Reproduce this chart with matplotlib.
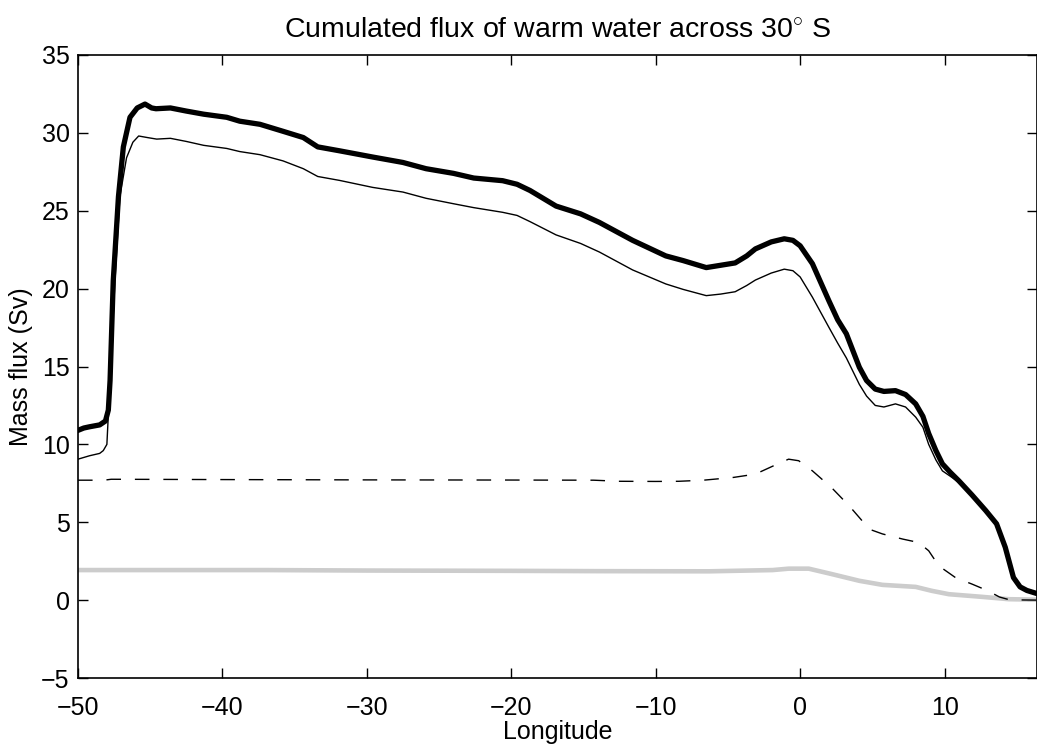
import matplotlib
matplotlib.use("Agg")
import matplotlib.pyplot as plt

plt.rcParams['font.family'] = ['Liberation Sans', 'DejaVu Sans']
plt.rcParams['mathtext.fontset'] = 'custom'
plt.rcParams['mathtext.rm'] = 'Liberation Sans'

# total warm water flux (thick black)
lon_total = [-50, -49.6, -49.2, -48.5, -48.1, -47.9, -47.78, -47.56, -47.2, -46.86,
             -46.4, -45.9, -45.36, -44.9, -44.6, -43.6, -42.5, -41.3, -39.7, -38.8,
             -37.4, -35.8, -34.4, -33.4, -31.9, -29.6, -27.5, -25.9, -24.0, -22.6,
             -20.6, -19.6, -18.7, -16.9, -15.2, -13.9, -13.2, -11.6, -9.3, -8.1,
             -6.5, -5.5, -4.5, -3.7, -3.1, -2.0, -1.1, -0.5, 0.0, 0.85,
             2.0, 2.6, 3.2, 4.1, 4.6, 5.2, 5.8, 6.6, 7.3, 8.0,
             8.5, 8.9, 9.4, 9.85, 10.4, 11.0, 11.9, 12.85, 13.6, 14.2,
             14.77, 15.23, 15.7, 16.4]
flux_total = [10.9, 11.05, 11.13, 11.25, 11.5, 12.2, 14.1, 20.5, 25.9, 29.1,
              31.0, 31.6, 31.85, 31.6, 31.55, 31.6, 31.4, 31.2, 31.0, 30.75,
              30.55, 30.1, 29.7, 29.1, 28.85, 28.45, 28.1, 27.7, 27.4, 27.1,
              26.93, 26.7, 26.3, 25.3, 24.8, 24.25, 23.9, 23.1, 22.1, 21.8,
              21.35, 21.5, 21.65, 22.1, 22.55, 23.0, 23.2, 23.1, 22.75, 21.6,
              19.2, 18.0, 17.1, 14.95, 14.1, 13.55, 13.4, 13.45, 13.2, 12.6,
              11.8, 10.7, 9.6, 8.75, 8.2, 7.65, 6.75, 5.75, 4.9, 3.4,
              1.45, 0.85, 0.62, 0.42]

# thin black
lon_thin = [-50, -49.2, -48.5, -48.25, -48.0, -47.9, -47.67, -47.44, -47.1, -46.64,
            -46.2, -45.8, -45.2, -44.55, -43.6, -42.5, -41.3, -39.7, -38.8, -37.4,
            -35.8, -34.4, -33.4, -31.9, -29.6, -27.5, -25.9, -24.0, -22.6, -20.6,
            -19.6, -18.7, -16.9, -15.2, -13.9, -13.2, -11.6, -9.3, -8.1, -6.5,
            -5.5, -4.5, -3.7, -3.1, -2.0, -1.1, -0.5, 0.0, 0.85, 2.0,
            2.6, 3.2, 4.1, 4.6, 5.2, 5.8, 6.6, 7.3, 8.0, 8.5,
            8.9, 9.4, 9.85, 10.4, 11.0, 11.9, 12.85, 13.6, 14.2, 14.77,
            15.23, 15.7, 16.4]
flux_thin = [9.05, 9.27, 9.42, 9.6, 10.0, 11.9, 16.2, 20.5, 25.9, 28.4,
             29.4, 29.8, 29.7, 29.6, 29.65, 29.45, 29.2, 29.0, 28.8, 28.6,
             28.2, 27.7, 27.2, 26.95, 26.5, 26.2, 25.8, 25.45, 25.2, 24.9,
             24.7, 24.3, 23.45, 22.9, 22.35, 22.0, 21.2, 20.3, 19.95, 19.55,
             19.65, 19.8, 20.2, 20.55, 21.0, 21.25, 21.15, 20.75, 19.45, 17.5,
             16.5, 15.55, 13.85, 13.1, 12.5, 12.4, 12.6, 12.4, 11.75, 11.1,
             10.0, 9.0, 8.3, 7.95, 7.55, 6.7, 5.7, 4.85, 3.35, 1.42,
             0.83, 0.6, 0.4]

# dashed
lon_dash = [-50, -48.2, -47.7, -40, -30.5, -20, -14.3, -12.5, -10, -8.4,
            -6.7, -4.6, -3.1, -1.9, -0.8, -0.1, 0.85, 2.2, 3.4, 4.1,
            4.8, 5.7, 7.1, 8.2, 8.9, 9.6, 10.75, 11.9, 13.0, 13.8,
            14.5, 16.4]
flux_dash = [7.7, 7.7, 7.76, 7.74, 7.72, 7.71, 7.7, 7.63, 7.62, 7.63,
             7.7, 7.88, 8.09, 8.6, 9.05, 8.95, 8.3, 7.2, 6.05, 5.3,
             4.55, 4.25, 3.92, 3.7, 3.17, 2.2, 1.45, 1.03, 0.6, 0.2,
             0.02, 0.0]

# grey
lon_grey = [-50, -37, -30, -20, -13.9, -6.3, -1.9, -0.8, 0.6, 2.2,
            4.1, 5.7, 8.0, 9.1, 10.3, 12.6, 14.45, 16.4]
flux_grey = [1.93, 1.93, 1.9, 1.88, 1.86, 1.85, 1.93, 2.02, 2.02, 1.67,
             1.24, 0.98, 0.85, 0.6, 0.38, 0.21, 0.06, 0.03]

fig = plt.figure(figsize=(10.37, 7.5), dpi=100)
ax = fig.add_axes([78 / 1037, 72 / 750, 1 - 78 / 1037, 623 / 750])

ax.plot(lon_grey, flux_grey, color='#cccccc', lw=3.3, solid_capstyle='butt')
ax.plot(lon_dash, flux_dash, color='black', lw=1.0, dashes=(10.5, 10))
ax.plot(lon_thin, flux_thin, color='black', lw=1.0)
ax.plot(lon_total, flux_total, color='black', lw=3.8)

ax.set_xlim(-50, 16.4)
ax.set_ylim(-5, 35)
ax.set_xticks(range(-50, 11, 10))
ax.set_yticks(range(-5, 36, 5))
ax.tick_params(direction='in', length=7, width=1, top=True, right=True,
               labelsize=18)
ax.tick_params(axis='x', pad=13)
ax.tick_params(axis='y', pad=6)
for s in ax.spines.values():
    s.set_linewidth(1.2)

ax.set_xlabel('Longitude', fontsize=18, labelpad=0)
ax.set_ylabel('Mass flux (Sv)', fontsize=18, labelpad=6)
ax.set_title(r'Cumulated flux of warm water across 30$^{\circ}$ S', fontsize=20.5, pad=12)

fig.savefig('out.png', dpi=100)
